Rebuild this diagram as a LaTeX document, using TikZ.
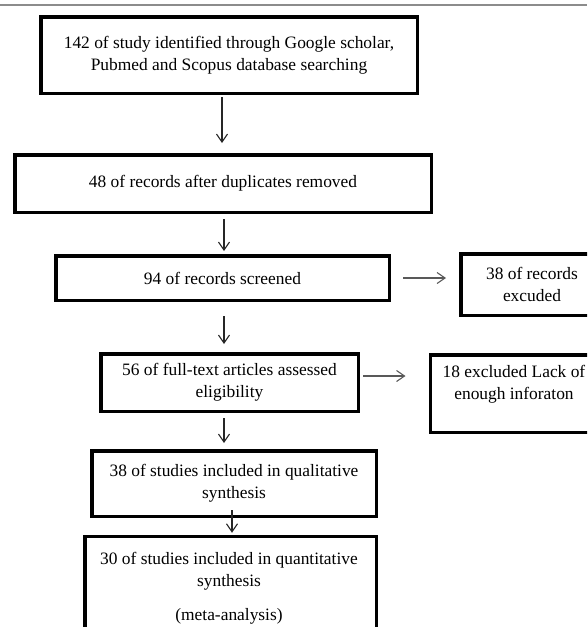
\documentclass[tikz,border=0pt]{standalone}
\usepackage{fontspec}
\setmainfont{Liberation Serif}
\usetikzlibrary{arrows.meta}
\begin{document}
\begin{tikzpicture}[x=1pt,y=-1pt,
  box/.style={draw=black,line width=3.5pt,inner sep=0pt,align=center,font=\fontsize{17.4}{22}\selectfont},
  txt/.style={inner sep=0pt,align=center,font=\fontsize{17.4}{22}\selectfont},
  varr/.style={draw=black!85,line width=1.1pt,-{Straight Barb[length=8pt,width=11pt,line width=1.1pt]}},
  harr/.style={draw=black!65,line width=1.1pt,-{Straight Barb[length=8pt,width=11pt,line width=1.1pt]}}]
\useasboundingbox (0,0) rectangle (587,627);
\clip (0,0) rectangle (587,627);
\coordinate (tl) at (0,5);
\coordinate (tr) at (587,5);
\draw[black!45,line width=1.5pt] (tl) -- (tr);

\node[box,minimum width=376.5pt,minimum height=76.5pt] (b1) at (229,55)
  {142 of study identified through Google scholar,\\Pubmed and Scopus database searching};
\node[box,minimum width=416.5pt,minimum height=57.5pt] (b2) at (223,183.5)
  {48 of records after duplicates removed};
\node[box,minimum width=333.5pt,minimum height=44.5pt] (b3) at (222.5,278)
  {94 of records screened};
\node[box,minimum width=142.5pt,minimum height=61.5pt] (b4) at (532,284.5)
  {38 of records\\excuded};
\node[box,minimum width=257.5pt,minimum height=57.5pt] (b5) at (229.5,382.5)
  {56 of full-text articles assessed\\eligibility};
\node[box,minimum width=167.5pt,minimum height=77.5pt] (b6) at (514,393.5) {};
\node[txt] (t6) at (514,384.5) {18 excluded Lack of\\enough inforaton};
\node[box,minimum width=284.5pt,minimum height=65.5pt] (b7) at (234,483.5)
  {38 of studies included in qualitative\\synthesis};
\node[box,minimum width=291.5pt,minimum height=120pt] (b8) at (230.5,596.5) {};
\node[txt] (t8) at (229,588) {30 of studies included in quantitative\\synthesis\\[12pt](meta-analysis)};

\draw[varr,shorten <=2pt,shorten >=10pt] ([xshift=-7pt]b1.south) -- ([xshift=-7pt]b1.south |- b2.north);
\draw[varr,shorten <=5pt,shorten >=3pt] ([xshift=1pt]b2.south) -- ([xshift=1pt]b2.south |- b3.north);
\draw[varr,shorten <=14pt,shorten >=8pt] ([xshift=1.5pt]b3.south) -- ([xshift=1.5pt]b3.south |- b5.north);
\draw[varr,shorten <=5pt,shorten >=6pt] ([xshift=-5.5pt]b5.south) -- ([xshift=-5.5pt]b5.south |- b7.north);
\draw[varr,shorten <=-8pt,shorten >=2pt] ([xshift=-2pt]b7.south) -- ([xshift=-2pt]b7.south |- b8.north);
\draw[harr,shorten <=12pt,shorten >=13pt] (b3.east) -- (b3.east -| b4.west);
\draw[harr,shorten <=3pt,shorten >=23pt] ([yshift=6.5pt]b5.east) -- ([yshift=6.5pt]b5.east -| b6.west);
\end{tikzpicture}
\end{document}
